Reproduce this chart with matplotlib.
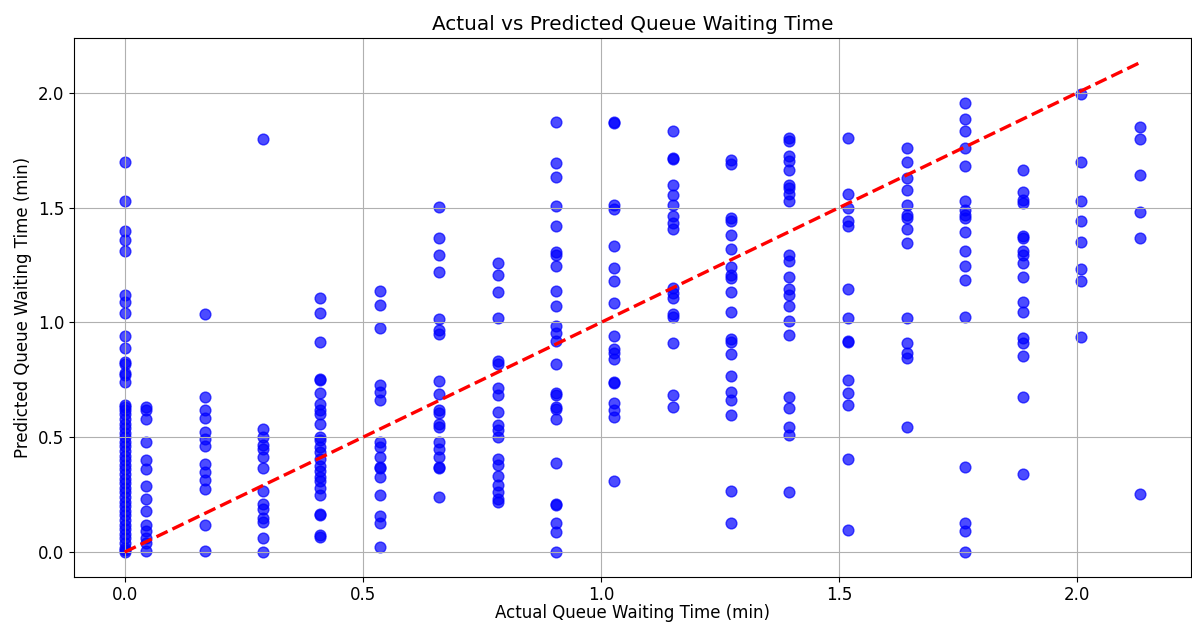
import numpy as np
import matplotlib
matplotlib.use("Agg")
import matplotlib.pyplot as plt

# actual waiting time values (one per column) and predictions
col_x = [0.0, 0.044, 0.168, 0.29, 0.41, 0.536, 0.66, 0.784, 0.905, 1.027,
         1.151, 1.273, 1.395, 1.519, 1.643, 1.765, 1.887, 2.008, 2.132]

pred_cols = [
    # 0.0
    [1.70, 1.53, 1.40, 1.36, 1.31, 1.12, 1.09, 1.04, 0.94, 0.89, 0.83, 0.82,
     0.78, 0.77, 0.74, 0.64, 0.63, 0.62, 0.60, 0.58, 0.56, 0.54, 0.52, 0.50,
     0.48, 0.46, 0.44, 0.42, 0.40, 0.38, 0.36, 0.34, 0.32, 0.30, 0.28, 0.26,
     0.24, 0.22, 0.20, 0.18, 0.16, 0.14, 0.12, 0.10, 0.08, 0.06, 0.04, 0.02,
     0.01, 0.0],
    # 0.044
    [0.633, 0.62, 0.578, 0.48, 0.40, 0.36, 0.29, 0.23, 0.18, 0.12, 0.09, 0.06,
     0.04, 0.006],
    # 0.168
    [1.037, 0.674, 0.619, 0.582, 0.523, 0.494, 0.46, 0.384, 0.348, 0.314,
     0.274, 0.117, 0.006],
    # 0.29
    [1.798, 0.538, 0.501, 0.465, 0.45, 0.413, 0.367, 0.267, 0.208, 0.186,
     0.147, 0.132, 0.062, 0.0],
    # 0.41
    [1.106, 1.041, 0.915, 0.754, 0.748, 0.692, 0.645, 0.619, 0.601, 0.560,
     0.501, 0.487, 0.457, 0.435, 0.406, 0.377, 0.355, 0.328, 0.311, 0.279,
     0.249, 0.164, 0.161, 0.073, 0.065],
    # 0.536
    [1.139, 1.078, 0.974, 0.729, 0.699, 0.663, 0.479, 0.457, 0.416, 0.372,
     0.367, 0.328, 0.249, 0.157, 0.128, 0.021],
    # 0.66
    [1.503, 1.367, 1.293, 1.22, 1.015, 0.968, 0.949, 0.743, 0.689, 0.619,
     0.604, 0.560, 0.545, 0.479, 0.450, 0.413, 0.370, 0.367, 0.238],
    # 0.784
    [1.257, 1.205, 1.132, 1.019, 0.831, 0.817, 0.714, 0.685, 0.611, 0.553,
     0.531, 0.501, 0.406, 0.381, 0.333, 0.293, 0.260, 0.230, 0.220],
    # 0.905
    [1.872, 1.696, 1.633, 1.506, 1.418, 1.305, 1.293, 1.246, 1.139, 1.073,
     0.985, 0.956, 0.919, 0.82, 0.692, 0.685, 0.63, 0.622, 0.578, 0.387,
     0.211, 0.205, 0.128, 0.088, 0.0],
    # 1.027
    [1.872, 1.868, 1.51, 1.496, 1.334, 1.239, 1.18, 1.084, 0.941, 0.886, 0.865,
     0.842, 0.739, 0.735, 0.648, 0.619, 0.587, 0.311],
    # 1.151
    [1.836, 1.718, 1.711, 1.598, 1.553, 1.51, 1.462, 1.433, 1.408, 1.15,
     1.129, 1.106, 1.037, 1.026, 0.909, 0.685, 0.633],
    # 1.273
    [1.707, 1.692, 1.455, 1.44, 1.381, 1.32, 1.242, 1.205, 1.194, 1.132,
     1.044, 0.927, 0.915, 0.861, 0.765, 0.699, 0.663, 0.597, 0.267, 0.128],
    # 1.395
    [1.804, 1.792, 1.726, 1.704, 1.663, 1.598, 1.584, 1.56, 1.528, 1.293,
     1.267, 1.198, 1.147, 1.12, 1.073, 1.007, 0.944, 0.677, 0.626, 0.545,
     0.509, 0.260],
    # 1.519
    [1.804, 1.56, 1.499, 1.443, 1.418, 1.147, 1.018, 0.919, 0.915, 0.751,
     0.695, 0.641, 0.406, 0.098],
    # 1.643
    [1.758, 1.701, 1.63, 1.579, 1.51, 1.466, 1.455, 1.408, 1.345, 1.018,
     0.912, 0.865, 0.846, 0.545],
    # 1.765
    [1.957, 1.887, 1.836, 1.76, 1.682, 1.531, 1.491, 1.469, 1.455, 1.396,
     1.311, 1.246, 1.183, 1.022, 0.372, 0.128, 0.094, 0.0],
    # 1.887
    [1.664, 1.569, 1.535, 1.52, 1.378, 1.37, 1.311, 1.293, 1.261, 1.198,
     1.088, 1.047, 0.934, 0.912, 0.856, 0.674, 0.34],
    # 2.008
    [1.997, 1.701, 1.528, 1.443, 1.352, 1.235, 1.18, 0.938],
    # 2.132
    [1.853, 1.799, 1.641, 1.481, 1.367, 0.255],
]

y_test = np.concatenate([[cx] * len(p) for cx, p in zip(col_x, pred_cols)])
y_pred = np.concatenate([np.array(p) for p in pred_cols])

plt.rcParams['font.size'] = 12

fig = plt.figure(figsize=(11.92, 6.24), dpi=100)
plt.scatter(y_test, y_pred, alpha=0.7, color='blue', s=60)
plt.plot([y_test.min(), y_test.max()], [y_test.min(), y_test.max()], 'r--', lw=2.4)
plt.xlabel('Actual Queue Waiting Time (min)', labelpad=0)
plt.ylabel('Predicted Queue Waiting Time (min)')
plt.title('Actual vs Predicted Queue Waiting Time', fontsize=14.4)
plt.grid(True)
plt.subplots_adjust(left=0.062, right=0.999, top=0.939, bottom=0.076)
plt.savefig('out.png')
